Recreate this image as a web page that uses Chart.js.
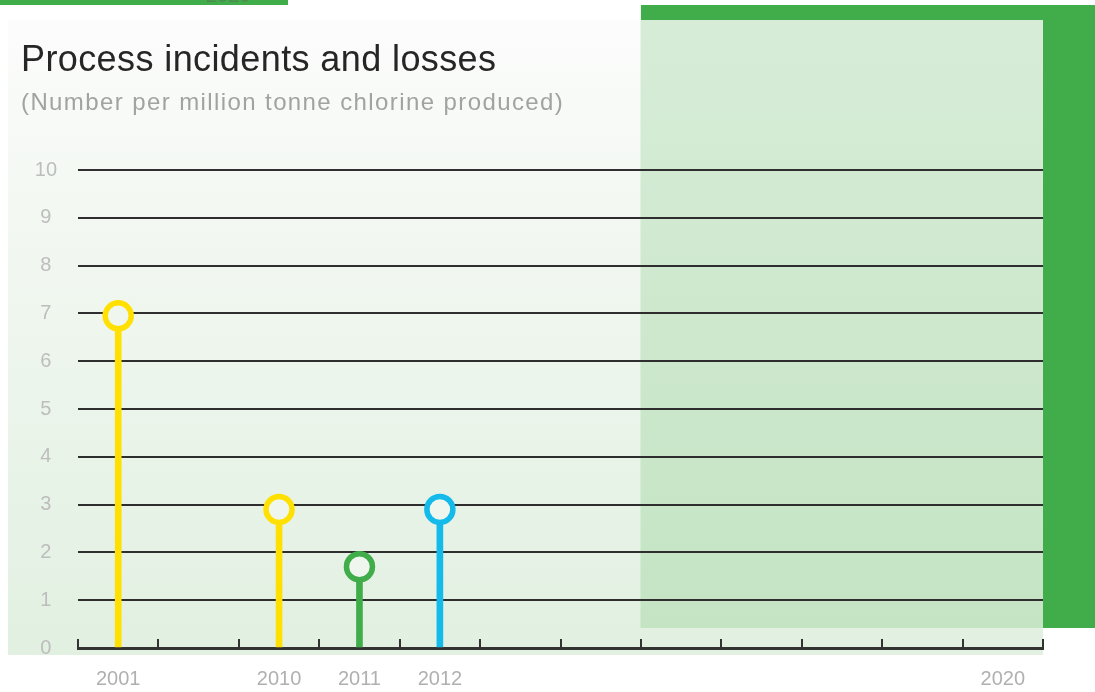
<!DOCTYPE html>
<html>
<head>
<meta charset="utf-8">
<script src="https://cdn.jsdelivr.net/npm/chart.js@4.4.1/dist/chart.umd.min.js"></script>
<style>
  html, body { margin: 0; padding: 0; background: #fff; }
  #wrap { position: relative; width: 1095px; height: 692px; overflow: hidden; font-family: "Liberation Sans", Arial, sans-serif; }
  #chart { position: absolute; left: 0; top: 0; }
  .title { position: absolute; left: 21px; top: 41px; font-size: 36px; line-height: 36px; color: #262626; letter-spacing: 0.4px; white-space: nowrap; }
  .sub { position: absolute; left: 21px; top: 90px; font-size: 24px; line-height: 24px; color: #a2a2a2; letter-spacing: 1.4px; white-space: nowrap; }
  .ghost { position: absolute; left: 206px; top: -15px; font-size: 20px; line-height: 20px; color: #4d8a50; }
</style>
</head>
<body>
<div id="wrap">
  <canvas id="chart" width="1095" height="692"></canvas>
  <div class="ghost">2020</div>
  <div class="title">Process incidents and losses</div>
  <div class="sub">(Number per million tonne chlorine produced)</div>
</div>
<script>
// chart data
const years = ['2001', '', '2010', '2011', '2012', '', '', '', '', '', '', '2020'];
const incidents = [6.95, null, 2.9, 1.7, 2.9, null, null, null, null, null, null, null];
const markColors = ['#ffe000', null, '#ffe000', '#40ad4a', '#14bbea', null, null, null, null, null, null, null];
const yTicks = [0, 1, 2, 3, 4, 5, 6, 7, 8, 9, 10];

const GREEN = '#40ad4a';

// panels behind the plot + little tick marks standing on the axis
const backdrop = {
  id: 'backdrop',
  beforeDraw(chart) {
    const { ctx } = chart;
    const x = chart.scales.x;
    const split = x.getPixelForValue(6.5);   // start of the future (target) zone
    const right = chart.chartArea.right;
    ctx.save();
    ctx.fillStyle = '#fff';
    ctx.fillRect(0, 0, chart.width, chart.height);

    ctx.fillStyle = GREEN;
    ctx.fillRect(0, 0, 288, 5);

    let g = ctx.createLinearGradient(0, 20, 0, 655);
    g.addColorStop(0, '#fcfcfc');
    g.addColorStop(0.3, '#f3f8f2');
    g.addColorStop(1, '#e1f0e1');
    ctx.fillStyle = g;
    ctx.fillRect(8, 20, right - 8, 635);

    ctx.fillStyle = GREEN;
    ctx.fillRect(split, 5, chart.width - split, 623);

    g = ctx.createLinearGradient(0, 20, 0, 628);
    g.addColorStop(0, '#d7ecd7');
    g.addColorStop(1, '#c4e4c4');
    ctx.fillStyle = g;
    ctx.fillRect(split, 20, right - split, 608);
    ctx.restore();
  },
  afterDatasetsDraw(chart) {
    const { ctx } = chart;
    const x = chart.scales.x;
    const base = chart.chartArea.bottom;
    ctx.save();
    ctx.strokeStyle = '#333';
    ctx.lineWidth = 2;
    for (let i = 0; i <= years.length; i++) {
      const px = Math.round(x.getPixelForValue(i - 0.5));
      ctx.beginPath();
      ctx.moveTo(px, base);
      ctx.lineTo(px, base - 9);
      ctx.stroke();
    }
    ctx.restore();
  }
};

new Chart(document.getElementById('chart'), {
  type: 'bar',
  data: {
    labels: years,
    datasets: [
      {
        type: 'line',
        data: incidents,
        showLine: false,
        pointRadius: 13,
        pointHoverRadius: 13,
        pointBorderWidth: 5.5,
        pointBorderColor: markColors,
        pointBackgroundColor: '#eef6ee',
        order: 0
      },
      {
        data: incidents,
        backgroundColor: markColors,
        barThickness: 6,
        order: 1
      }
    ]
  },
  options: {
    responsive: false,
    animation: false,
    layout: { padding: { top: 170, right: 52, left: 0, bottom: 0 } },
    plugins: { legend: { display: false }, tooltip: { enabled: false } },
    scales: {
      x: {
        offset: true,
        grid: { display: false, drawTicks: false },
        border: { display: true, color: '#333', width: 3 },
        ticks: {
          color: '#b0b0b0',
          padding: 19,
          autoSkip: false,
          maxRotation: 0,
          font: { family: 'Liberation Sans', size: 20 }
        },
        afterFit(s) { s.height = 44; }
      },
      y: {
        min: 0,
        max: 10,
        afterBuildTicks(s) { s.ticks = yTicks.map(v => ({ value: v })); },
        grid: {
          drawTicks: false,
          lineWidth: 2,
          color: c => (c.tick && c.tick.value === 0 ? 'rgba(0,0,0,0)' : '#2e2e2e')
        },
        border: { display: false },
        ticks: {
          color: '#bdbdbd',
          crossAlign: 'center',
          padding: 21,
          font: { family: 'Liberation Sans', size: 20 }
        },
        afterFit(s) { s.width = 78; }
      }
    }
  },
  plugins: [backdrop]
});
</script>
</body>
</html>
